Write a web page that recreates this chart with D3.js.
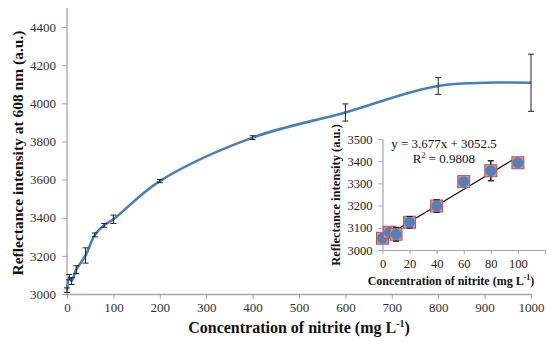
<!DOCTYPE html>
<html>
<head>
<meta charset="utf-8">
<script src="https://cdn.jsdelivr.net/npm/d3@7"></script>
<style>
  html, body { margin: 0; padding: 0; background: #fff; }
  svg { display: block; }
  svg text { font-family: "Liberation Serif", "Times New Roman", serif; }
</style>
</head>
<body>
<svg id="chart" width="550" height="342"></svg>
<script>
// ---- Data (main chart) ----
const mainConc = [0, 5, 10, 20, 40, 60, 80, 100, 200, 400, 600, 800, 1000];
const mainIntensity = [3020, 3088, 3068, 3128, 3202, 3310, 3360, 3392, 3592, 3820, 3952, 4091, 4108];
const mainError = [12, 14, 18, 20, 40, 10, 10, 22, 8, 10, 45, 44, 150];
const mainXTicks = [0, 100, 200, 300, 400, 500, 600, 700, 800, 900, 1000];
const mainYTicks = [3000, 3200, 3400, 3600, 3800, 4000, 4200, 4400];

// ---- Data (inset: linear range) ----
const insetConc = [0, 5, 10, 20, 40, 60, 80, 100];
const insetIntensity = [3053, 3080, 3071, 3125, 3198, 3308, 3357, 3393];
const insetError = [8, 10, 31, 26, 28, 8, 45, 8];
const insetXTicks = [0, 20, 40, 60, 80, 100, 120];
const insetXLabels = [0, 20, 40, 60, 80, 100];
const insetYTicks = [3000, 3100, 3200, 3300, 3400, 3500];
const fitSlope = 3.677;
const fitIntercept = 3052.5;
const fitR2 = 0.9808;

const svg = d3.select("#chart");
const axisGray = "#a6a6a6";
const textGray = "#333";
const fmt = d3.format("d");

// ---------- Main chart ----------
const x = d3.scaleLinear().domain([0, 1000]).range([67, 531]);
const y = d3.scaleLinear().domain([3000, 4500]).range([294, 8]);

const gx = svg.append("g").attr("transform", `translate(0,${y(3000)})`)
  .call(d3.axisBottom(x).tickValues(mainXTicks).tickFormat(fmt).tickSize(5).tickPadding(4).tickSizeOuter(0));
const gy = svg.append("g").attr("transform", `translate(${x(0)},0)`)
  .call(d3.axisLeft(y).tickValues(mainYTicks).tickFormat(fmt).tickSize(5).tickPadding(6).tickSizeOuter(0));
[gx, gy].forEach(g => {
  g.select(".domain").attr("stroke", axisGray).attr("stroke-width", 1.3);
  g.selectAll(".tick line").attr("stroke", axisGray);
  g.selectAll(".tick text").attr("fill", textGray).style("font-size", "13px")
    .style("font-family", "'Liberation Serif', serif");
});
gy.select(".domain").attr("d", `M0,${y(3000)}V${y(4500)}`);

const mainPts = mainConc.map((c, i) => ({ c, v: mainIntensity[i], e: mainError[i] }));

svg.append("path")
  .datum(mainPts)
  .attr("fill", "none")
  .attr("stroke", "#4a7ebb")
  .attr("stroke-width", 2.6)
  .attr("d", d3.line().x(d => x(d.c)).y(d => y(d.v)).curve(d3.curveCatmullRom.alpha(0.5)));

const eb = svg.append("g").attr("stroke", "#222").attr("stroke-width", 1).attr("fill", "none");
mainPts.forEach(d => {
  const cx = x(d.c), t = y(d.v + d.e), b = y(d.v - d.e);
  eb.append("path").attr("d", `M${cx},${t}V${b}M${cx - 3},${t}H${cx + 3}M${cx - 3},${b}H${cx + 3}`);
});

// main axis titles
svg.append("text")
  .attr("transform", `translate(23,153) rotate(-90)`)
  .attr("text-anchor", "middle")
  .style("font-size", "15.5px").attr("font-weight", "bold").attr("fill", "#111")
  .text("Reflectance intensity at 608 nm (a.u.)");

const xt = svg.append("text")
  .attr("x", 299).attr("y", 333)
  .attr("text-anchor", "middle")
  .style("font-size", "16px").attr("font-weight", "bold").attr("fill", "#111");
xt.append("tspan").text("Concentration of nitrite (mg L");
xt.append("tspan").style("font-size", "10px").attr("dy", -6).text("-1");
xt.append("tspan").attr("dy", 6).text(")");

// ---------- Inset ----------
const xi = d3.scaleLinear().domain([0, 120]).range([382.5, 545]);
const yi = d3.scaleLinear().domain([3000, 3500]).range([250, 139]);

const gxi = svg.append("g").attr("transform", `translate(0,${yi(3000)})`)
  .call(d3.axisBottom(xi).tickValues(insetXTicks).tickSize(4).tickPadding(5).tickSizeOuter(0)
    .tickFormat(d => insetXLabels.includes(d) ? fmt(d) : ""));
const gyi = svg.append("g").attr("transform", `translate(${xi(0)},0)`)
  .call(d3.axisLeft(yi).tickValues(insetYTicks).tickFormat(fmt).tickSize(4).tickPadding(6).tickSizeOuter(0));
[gxi, gyi].forEach(g => {
  g.select(".domain").attr("stroke", axisGray).attr("stroke-width", 1.2);
  g.selectAll(".tick line").attr("stroke", axisGray);
  g.selectAll(".tick text").attr("fill", "#222").style("font-size", "12.5px")
    .style("font-family", "'Liberation Serif', serif");
});

// trendline
svg.append("line")
  .attr("x1", xi(0)).attr("y1", yi(fitIntercept))
  .attr("x2", xi(100)).attr("y2", yi(fitIntercept + fitSlope * 100))
  .attr("stroke", "#111").attr("stroke-width", 1.1);

const insetPts = insetConc.map((c, i) => ({ c, v: insetIntensity[i], e: insetError[i] }));
const ebi = svg.append("g").attr("stroke", "#222").attr("stroke-width", 1).attr("fill", "none");
insetPts.forEach(d => {
  const cx = xi(d.c), t = yi(d.v + d.e), b = yi(d.v - d.e);
  ebi.append("path").attr("d", `M${cx},${t}V${b}M${cx - 3},${t}H${cx + 3}M${cx - 3},${b}H${cx + 3}`);
});
const mk = svg.append("g");
insetPts.forEach(d => {
  const cx = xi(d.c), cy = yi(d.v);
  mk.append("rect").attr("x", cx - 6).attr("y", cy - 6).attr("width", 12).attr("height", 12)
    .attr("fill", "#d98f8f").attr("stroke", "#c0504d").attr("stroke-width", 1);
  mk.append("circle").attr("cx", cx).attr("cy", cy).attr("r", 5.4).attr("fill", "#4f81bd");
});
// whiskers of the larger error bars stay visible above/below the markers
const ebTop = svg.append("g").attr("stroke", "#222").attr("stroke-width", 1).attr("fill", "none");
insetPts.filter(d => d.e > 20).forEach(d => {
  const cx = xi(d.c), t = yi(d.v + d.e), b = yi(d.v - d.e);
  ebTop.append("path")
    .attr("d", `M${cx},${t}V${yi(d.v) - 6}M${cx},${b}V${yi(d.v) + 6}M${cx - 3},${t}H${cx + 3}M${cx - 3},${b}H${cx + 3}`);
});

// equation
svg.append("text").attr("x", 444).attr("y", 148).attr("text-anchor", "middle")
  .style("font-size", "13px").attr("fill", "#111")
  .text(`y = ${fitSlope}x + ${fitIntercept}`);
const r2 = svg.append("text").attr("x", 444).attr("y", 163).attr("text-anchor", "middle")
  .style("font-size", "13px").attr("fill", "#111");
r2.append("tspan").text("R");
r2.append("tspan").style("font-size", "8px").attr("dy", -5).text("2");
r2.append("tspan").attr("dy", 5).text(` = ${fitR2}`);

// inset titles
svg.append("text")
  .attr("transform", `translate(340,195) rotate(-90)`)
  .attr("text-anchor", "middle")
  .style("font-size", "12.5px").attr("font-weight", "bold").attr("fill", "#111")
  .text("Reflectance intensity (a.u.)");
const xti = svg.append("text")
  .attr("x", 451).attr("y", 285)
  .attr("text-anchor", "middle")
  .style("font-size", "12px").attr("font-weight", "bold").attr("fill", "#111");
xti.append("tspan").text("Concentration of nitrite (mg L");
xti.append("tspan").style("font-size", "8px").attr("dy", -5).text("-1");
xti.append("tspan").attr("dy", 5).text(")");
</script>
</body>
</html>
